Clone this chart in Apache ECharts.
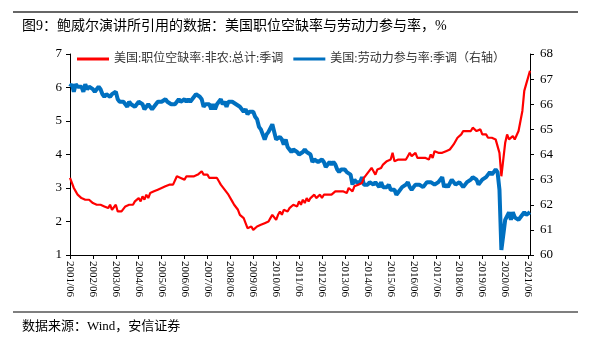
<!DOCTYPE html>
<html><head><meta charset="utf-8">
<script src="https://cdn.jsdelivr.net/npm/echarts@6/dist/echarts.min.js"></script>
<style>html,body{margin:0;padding:0;background:#fff;}#c{width:592px;height:343px;}</style>
</head><body><div id="c"></div>
<script>
var titleText = '图9：鲍威尔演讲所引用的数据：美国职位空缺率与劳动力参与率，%';
var sourceText = '数据来源：Wind，安信证券';
var seriesNames = ['美国:职位空缺率:非农:总计:季调', '美国:劳动力参与率:季调（右轴）'];
// monthly categories 2001/06 .. 2021/07
var startYear = 2001, startMonth = 6, monthCount = 242;
var categories = [];
for (var i = 0; i < monthCount; i++) {
  var m = startMonth - 1 + i;
  var y = startYear + Math.floor(m / 12);
  var mm = (m % 12) + 1;
  categories.push(y + '/' + (mm < 10 ? '0' + mm : mm));
}
var leftTicks = [1, 7, 1];   // min, max, interval
var rightTicks = [60, 68, 1];

var openingsRate = [
  3.3, 3.15, 3.0, 2.9, 2.8, 2.75, 2.7,
  2.75, 2.65, 2.7, 2.65, 2.6, 2.55, 2.6, 2.5, 2.55, 2.5, 2.55, 2.45,
  2.5, 2.4, 2.5, 2.35, 2.4, 2.5, 2.3, 2.25, 2.3, 2.35, 2.45, 2.4,
  2.5, 2.55, 2.5, 2.6, 2.55, 2.7, 2.6, 2.75, 2.65, 2.8, 2.7, 2.85,
  2.8, 2.9, 2.85, 2.95, 2.9, 3.0, 2.95, 3.05, 3.1, 3.1, 3.15, 3.1,
  3.15, 3.35, 3.4, 3.3, 3.3, 3.25, 3.35, 3.3, 3.35, 3.4, 3.35, 3.4,
  3.4, 3.45, 3.5, 3.4, 3.35, 3.4, 3.3, 3.35, 3.3, 3.35, 3.3, 3.2,
  3.1, 3.05, 2.95, 2.9, 2.8, 2.75, 2.6, 2.5, 2.45, 2.35, 2.2, 2.15,
  2.1, 1.95, 1.8, 1.75, 1.85, 1.75, 1.8, 1.85, 1.8, 1.9, 1.85, 1.95,
  1.95, 2.0, 2.1, 2.2, 2.15, 2.05, 2.2, 2.3, 2.2, 2.35, 2.3, 2.3,
  2.4, 2.45, 2.5, 2.55, 2.45, 2.6, 2.5, 2.65, 2.55, 2.7, 2.6, 2.7,
  2.75, 2.8, 2.7, 2.75, 2.8, 2.7, 2.8, 2.75, 2.8, 2.85, 2.8, 2.85,
  2.9, 2.85, 2.9, 2.85, 2.9, 2.95, 2.85, 3.0, 2.95, 2.9, 3.05, 3.0,
  3.1, 3.05, 3.15, 3.3, 3.35, 3.45, 3.4, 3.6, 3.5, 3.4, 3.55, 3.6,
  3.6, 3.7, 3.65, 3.8, 3.75, 3.85, 4.05, 3.8, 3.75, 3.85, 3.8, 3.85,
  3.9, 3.85, 3.95, 4.05, 3.95, 4.0, 4.05, 3.9, 3.95, 3.9, 3.95, 3.9,
  3.95, 3.85, 4.0, 3.9, 4.1, 4.15, 4.05, 4.0, 4.05, 4.0, 4.1, 4.05,
  4.15, 4.2, 4.3, 4.35, 4.5, 4.55, 4.6, 4.7, 4.65, 4.7, 4.75, 4.7,
  4.8, 4.75, 4.7, 4.65, 4.75, 4.6, 4.55, 4.6, 4.5, 4.55, 4.5, 4.5,
  4.45, 4.4, 4.05, 3.35, 3.85, 4.35, 4.6, 4.45, 4.5, 4.55, 4.45, 4.5,
  4.7, 5.0, 5.3, 5.9, 6.1, 6.3, 6.5
];
var participationRate = [
  66.7, 66.8, 66.5, 66.8, 66.7, 66.7, 66.7,
  66.5, 66.8, 66.6, 66.7, 66.7, 66.6, 66.5, 66.6, 66.7, 66.6, 66.4, 66.3,
  66.4, 66.4, 66.3, 66.4, 66.4, 66.5, 66.2, 66.1, 66.1, 66.1, 66.1, 65.9,
  66.1, 66.0, 66.0, 65.9, 66.0, 66.1, 66.1, 66.0, 65.8, 65.9, 66.0, 65.9,
  65.8, 65.9, 65.9, 66.1, 66.1, 66.1, 66.1, 66.2, 66.1, 66.1, 66.0, 66.0,
  66.0, 66.1, 66.2, 66.1, 66.1, 66.2, 66.1, 66.2, 66.1, 66.2, 66.3, 66.4,
  66.4, 66.3, 66.2, 65.9, 66.0, 66.0, 66.0, 65.8, 66.0, 65.8, 66.0, 66.0,
  66.2, 66.0, 66.1, 65.9, 66.1, 66.1, 66.1, 66.1, 66.0, 66.0, 65.9, 65.8,
  65.7, 65.8, 65.6, 65.7, 65.7, 65.7, 65.5, 65.4, 65.1, 65.0, 65.0, 64.6,
  64.8, 64.9, 64.9, 65.2, 64.9, 64.6, 64.6, 64.7, 64.6, 64.4, 64.6, 64.3,
  64.2, 64.1, 64.2, 64.2, 64.1, 64.0, 64.0, 64.1, 64.2, 64.1, 64.1, 64.0,
  63.7, 63.8, 63.8, 63.7, 63.7, 63.8, 63.7, 63.5, 63.6, 63.7, 63.6, 63.7,
  63.6, 63.4, 63.3, 63.4, 63.4, 63.4, 63.3, 63.3, 63.2, 62.8, 63.0, 62.9,
  62.9, 62.9, 63.1, 62.8, 62.8, 62.8, 62.9, 62.9, 62.8, 62.9, 62.9, 62.7,
  62.9, 62.7, 62.7, 62.7, 62.8, 62.6, 62.6, 62.6, 62.4, 62.5, 62.5, 62.7,
  62.7, 62.8, 62.9, 62.7, 62.6, 62.7, 62.8, 62.8, 62.8, 62.8, 62.7, 62.7,
  62.9, 62.9, 62.9, 62.9, 62.8, 62.8, 62.9, 62.9, 63.1, 62.7, 62.8, 62.7,
  62.7, 63.0, 62.9, 62.8, 62.8, 62.9, 62.9, 62.7, 62.7, 62.9, 62.9, 63.0,
  63.1, 63.1, 63.0, 62.8, 62.9, 63.0, 63.0, 63.1, 63.2, 63.3, 63.2, 63.3,
  63.4, 63.3, 62.6, 60.2, 60.8, 61.4, 61.4, 61.7, 61.4, 61.7, 61.5, 61.5,
  61.4, 61.5, 61.5, 61.7, 61.6, 61.6, 61.7
];

var serif = '"Liberation Serif","Times New Roman",serif';
var cjk = '"Liberation Serif","Noto Sans CJK SC",serif';
var chart = echarts.init(document.getElementById('c'), null, {renderer: 'canvas'});
chart.setOption({
  animation: false,
  backgroundColor: '#ffffff',
  graphic: [
    {type: 'line', shape: {x1: 13, y1: 12, x2: 578, y2: 12}, style: {stroke: '#333', lineWidth: 1.5}},
    {type: 'text', left: 22, top: 19, style: {text: titleText, font: '14px ' + cjk, fill: '#000'}},
    {type: 'line', shape: {x1: 13, y1: 312, x2: 578, y2: 312}, style: {stroke: '#555', lineWidth: 1.5}},
    {type: 'text', left: 22, top: 320, style: {text: sourceText, font: '13px ' + cjk, fill: '#000'}}
  ],
  legend: {
    left: 72, top: 48,
    itemWidth: 32, itemHeight: 3, itemGap: 10,
    icon: 'rect',
    textStyle: {fontFamily: cjk, fontSize: 12, color: '#333'},
    data: [seriesNames[0], seriesNames[1]]
  },
  grid: {left: 70, right: 62, top: 54, bottom: 88, containLabel: false},
  xAxis: {
    type: 'category', data: categories, boundaryGap: false,
    axisLine: {lineStyle: {color: '#000', width: 1}},
    axisTick: {show: true, interval: 11, length: 4, lineStyle: {color: '#000'}},
    axisLabel: {interval: 11, rotate: -90, fontFamily: serif, fontSize: 11, color: '#000', margin: 6}
  },
  yAxis: [
    {type: 'value', min: leftTicks[0], max: leftTicks[1], interval: leftTicks[2], position: 'left',
     splitLine: {show: false},
     axisLine: {show: true, lineStyle: {color: '#000'}},
     axisTick: {show: true, length: 4, lineStyle: {color: '#000'}},
     axisLabel: {fontFamily: serif, fontSize: 13, color: '#000', margin: 8}},
    {type: 'value', min: rightTicks[0], max: rightTicks[1], interval: rightTicks[2], position: 'right',
     splitLine: {show: false},
     axisLine: {show: true, lineStyle: {color: '#000'}},
     axisTick: {show: true, length: 4, lineStyle: {color: '#000'}},
     axisLabel: {fontFamily: serif, fontSize: 13, color: '#000', margin: 10}}
  ],
  series: [
    {name: seriesNames[1], type: 'line', yAxisIndex: 1, data: participationRate, showSymbol: false,
     lineStyle: {color: '#0070C0', width: 4}, itemStyle: {color: '#0070C0'}, z: 2},
    {name: seriesNames[0], type: 'line', yAxisIndex: 0, data: openingsRate, showSymbol: false,
     lineStyle: {color: '#FF0000', width: 2.2}, itemStyle: {color: '#FF0000'}, z: 3}
  ]
});
</script></body></html>
